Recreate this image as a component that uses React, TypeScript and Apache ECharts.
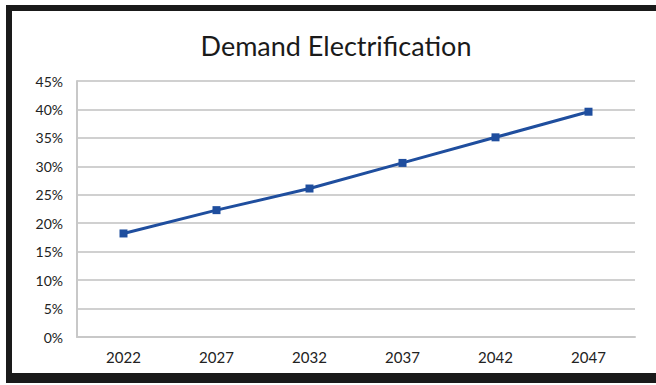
import React, { useEffect, useRef } from "react";
import * as echarts from "echarts";

const years = ["2022", "2027", "2032", "2037", "2042", "2047"];
const electrification = [18.2, 22.3, 26.1, 30.6, 35.1, 39.6];
const chartTitle = "Demand Electrification";

export default function App() {
  const ref = useRef<HTMLDivElement>(null);
  useEffect(() => {
    if (!ref.current) return;
    const chart = echarts.init(ref.current, undefined, { renderer: "svg" });
    chart.setOption({
      animation: false,
      backgroundColor: "transparent",
      title: {
        text: chartTitle,
        left: 331,
        top: 27,
        textAlign: "center",
        textStyle: {
          fontFamily: "Lato",
          fontSize: 27,
          fontWeight: "normal",
          color: "#1a1a1a",
        },
      },
      grid: { left: 77, right: 21, top: 81, bottom: 48, containLabel: false },
      xAxis: {
        type: "category",
        data: years,
        boundaryGap: true,
        axisLine: { show: true, lineStyle: { color: "#c8c8c8", width: 2 } },
        axisTick: { show: false },
        axisLabel: {
          margin: 12,
          fontFamily: "Lato",
          fontSize: 15,
          color: "#222222",
        },
        splitLine: { show: false },
      },
      yAxis: {
        type: "value",
        min: 0,
        max: 45,
        interval: 5,
        axisLine: { show: true, lineStyle: { color: "#c8c8c8", width: 2 } },
        axisTick: { show: false },
        axisLabel: {
          margin: 14,
          fontFamily: "Lato",
          fontSize: 14,
          color: "#222222",
          formatter: (v: number) => `${v}%`,
        },
        splitLine: { show: true, lineStyle: { color: "#d0d0d0", width: 2 } },
      },
      series: [
        {
          type: "line",
          data: electrification,
          symbol: "rect",
          symbolSize: 8,
          lineStyle: { color: "#1f4e9e", width: 3 },
          itemStyle: { color: "#1f4e9e" },
        },
      ],
    });
    return () => chart.dispose();
  }, []);

  return (
    <div
      style={{
        position: "fixed",
        left: 0,
        top: 0,
        width: 656,
        height: 385,
        background: "#ffffff",
        overflow: "hidden",
      }}
    >
      <div
        style={{
          position: "absolute",
          left: 6,
          top: 5,
          width: 660,
          height: 378,
          boxSizing: "border-box",
          borderLeft: "6px solid #1a1a1a",
          borderTop: "6px solid #1a1a1a",
          borderBottom: "10px solid #1a1a1a",
        }}
      />
      <div
        ref={ref}
        style={{ position: "absolute", left: 0, top: 0, width: 656, height: 385 }}
      />
    </div>
  );
}
